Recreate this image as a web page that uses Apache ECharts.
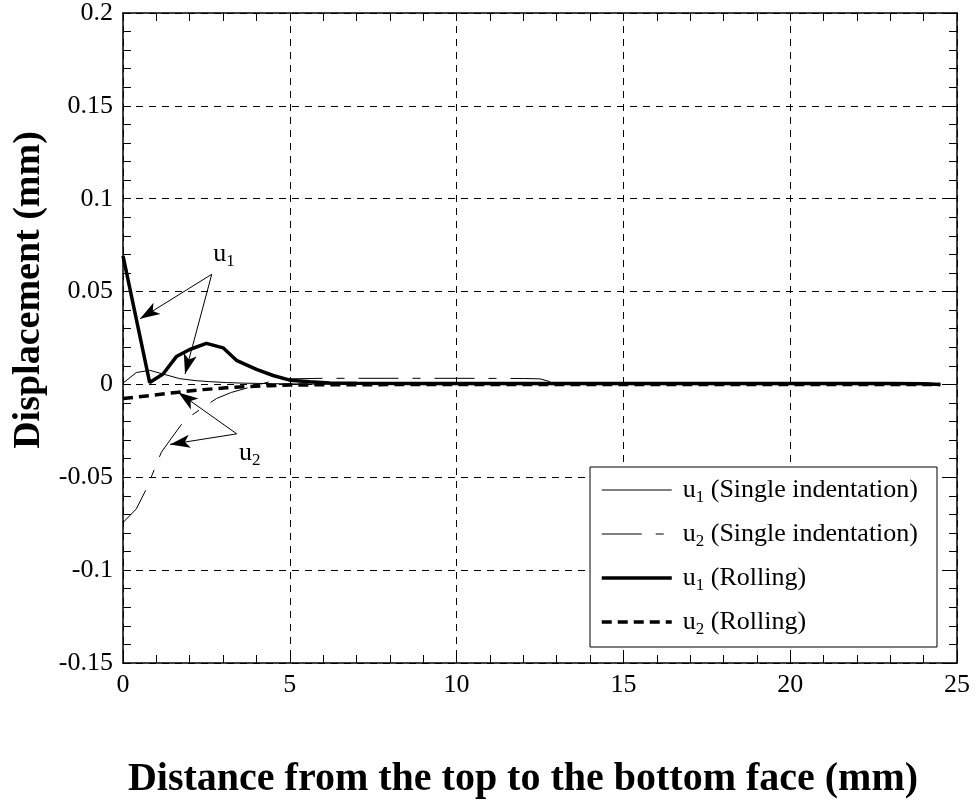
<!DOCTYPE html>
<html>
<head>
<meta charset="utf-8">
<script src="https://cdn.jsdelivr.net/npm/echarts@6/dist/echarts.min.js"></script>
<style>
  html, body { margin: 0; padding: 0; background: #fff; }
  #chart { width: 976px; height: 805px; }
</style>
</head>
<body>
<div id="chart"></div>
<script>
// u1, single indentation (thin solid)
var u1SingleX = [0, 0.4, 0.8, 1.2, 1.7, 2.2, 2.6, 3.1, 3.6, 4.5, 5.5, 7, 9, 11, 13, 15, 17, 19, 21, 23, 24.5];
var u1SingleY = [0.0007, 0.0064, 0.0076, 0.0056, 0.0031, 0.0020, 0.0015, 0.0010, 0.0007, 0.0004, 0.0002, 0.0001, 0.0001, 0.0001, 0.0001, 0.0001, 0.0001, 0.0001, 0.0001, 0.0001, 0];

// u2, single indentation (thin long dash)
var u2SingleX = [0, 0.4, 0.7, 1.15, 1.45, 1.75, 2.05, 2.8, 3.25, 4.0, 4.5, 5.0, 6, 8, 10, 12, 12.5, 13, 15, 17, 19, 21, 23, 24.5];
var u2SingleY = [-0.0744, -0.067, -0.0563, -0.0365, -0.029, -0.0216, -0.0167, -0.0076, -0.0043, -0.0005, 0.0020, 0.0030, 0.0033, 0.0033, 0.0033, 0.0032, 0.0030, 0.0005, 0.0002, 0.0002, 0.0002, 0.0002, 0.0001, 0];

// u1, rolling (thick solid)
var u1RollX = [0, 0.8, 1.2, 1.6, 2.0, 2.5, 3.0, 3.4, 4.0, 4.5, 5.0, 5.6, 6.2, 7, 9, 11, 13, 15, 17, 19, 21, 23, 24, 24.5];
var u1RollY = [0.0692, 0.0010, 0.0056, 0.0150, 0.0188, 0.0221, 0.0197, 0.0130, 0.0081, 0.0048, 0.0023, 0.0015, 0.0008, 0.0006, 0.0005, 0.0005, 0.0005, 0.0005, 0.0005, 0.0005, 0.0005, 0.0005, 0.0004, 0];

// u2, rolling (thick dash)
var u2RollX = [0, 0.8, 1.6, 2.4, 3.1, 3.8, 4.4, 5.0, 6, 8, 10, 12, 14, 16, 18, 20, 22, 24, 24.5];
var u2RollY = [-0.0076, -0.0060, -0.0043, -0.0028, -0.0018, -0.0011, -0.0007, -0.0003, -0.0002, -0.0001, -0.0001, -0.0001, -0.0001, -0.0001, -0.0001, -0.0001, -0.0001, -0.0001, 0];

var seriesNames = ['u1 (Single indentation)', 'u2 (Single indentation)', 'u1 (Rolling)', 'u2 (Rolling)'];

// annotation arrows: [fromX, fromY, toX, toY]
var arrowsU1 = [[2.66, 0.0593, 0.51, 0.0353], [2.66, 0.0593, 1.86, 0.0056]];
var arrowsU2 = [[3.41, -0.0266, 1.66, -0.0043], [3.41, -0.0266, 1.41, -0.0323]];
var noteLabels = [{sub: '1', x: 3.03, y: 0.070}, {sub: '2', x: 3.8, y: -0.037}];

var xTicks = {min: 0, max: 25, interval: 5};
var yTicks = {min: -0.15, max: 0.2, interval: 0.05};

function pairs(xs, ys) {
    return xs.map(function (x, i) { return [x, ys[i]] })
}

var fontFamily = '"Liberation Serif", "Times New Roman", serif';
var richSub = {
    t: {fontSize: 26, lineHeight: 32, fontFamily: fontFamily, color: '#000'},
    s: {fontSize: 17, lineHeight: 8, verticalAlign: 'bottom', fontFamily: fontFamily, color: '#000'}
};

var lineStyles = [
    {color: '#000', width: 1, type: 'solid'},
    {color: '#000', width: 1, type: [40, 14, 8, 14]},
    {color: '#000', width: 3.5, type: 'solid'},
    {color: '#000', width: 3.5, type: [10, 6]}
];

var markLines = arrowsU1.concat(arrowsU2).map(function (a) {
    return [{coord: [a[0], a[1]]}, {coord: [a[2], a[3]]}]
});
var markPoints = noteLabels.map(function (n) {
    return {
        coord: [n.x, n.y],
        label: {show: true, position: 'inside', formatter: '{t|u}{s|' + n.sub + '}', rich: richSub}
    }
});

var gridLine = {show: true, lineStyle: {color: '#000', width: 1, type: [7, 6]}};

function xAxisOf(pos, main) {
    return {
        type: 'value', position: pos,
        min: xTicks.min, max: xTicks.max, interval: xTicks.interval,
        axisLine: {show: true, onZero: false, lineStyle: {color: '#000', width: 1.5}},
        axisTick: {show: true, inside: true, length: 8, lineStyle: {color: '#000'}},
        minorTick: {show: true, splitNumber: 5, length: 8, lineStyle: {color: '#000'}},
        axisLabel: {show: main, margin: 9, fontSize: 26, fontFamily: fontFamily, color: '#000'},
        splitLine: main ? gridLine : {show: false},
        name: main ? 'Distance from the top to the bottom face (mm)' : '',
        nameLocation: 'middle', nameGap: 97,
        nameTextStyle: {fontSize: 40, fontWeight: 'bold', fontFamily: fontFamily, color: '#000', padding: [0, 34, 0, 0]}
    }
}

function yAxisOf(pos, main) {
    return {
        type: 'value', position: pos,
        min: yTicks.min, max: yTicks.max, interval: yTicks.interval,
        axisLine: {show: true, onZero: false, lineStyle: {color: '#000', width: 1.5}},
        axisTick: {show: true, inside: true, length: 8, lineStyle: {color: '#000'}},
        minorTick: {show: true, splitNumber: 5, length: 8, lineStyle: {color: '#000'}},
        axisLabel: {show: main, margin: 10, fontSize: 26, fontFamily: fontFamily, color: '#000'},
        splitLine: main ? gridLine : {show: false},
        name: main ? 'Displacement (mm)' : '',
        nameLocation: 'middle', nameGap: 71,
        nameTextStyle: {fontSize: 38, fontWeight: 'bold', fontFamily: fontFamily, color: '#000', padding: [0, 0, 0, 96]}
    }
}

var option = {
    animation: false,
    backgroundColor: '#fff',
    grid: {left: 123, right: 19, top: 13, bottom: 141},
    xAxis: [xAxisOf('bottom', true), xAxisOf('top', false)],
    yAxis: [yAxisOf('left', true), yAxisOf('right', false)],
    legend: {
        data: seriesNames.map(function (n, i) {
            return {
                name: n,
                itemStyle: {color: 'rgba(0,0,0,0)', borderWidth: 0, opacity: 0},
                lineStyle: lineStyles[i]
            }
        }),
        orient: 'vertical',
        left: 590, top: 467,
        padding: [10, 19, 9, 10],
        itemWidth: 70, itemHeight: 14, itemGap: 15,
        backgroundColor: '#fff',
        borderColor: '#000', borderWidth: 1, borderRadius: 0,
        formatter: function (name) {
            var m = name.match(/^u(\d) (.*)$/);
            return '{t|u}{s|' + m[1] + '}{t| ' + m[2] + '}'
        },
        textStyle: {rich: richSub, padding: [0, 0, 0, 6]}
    },
    series: [
        {
            name: seriesNames[0], type: 'line', showSymbol: false, symbol: 'none',
            data: pairs(u1SingleX, u1SingleY),
            lineStyle: lineStyles[0], itemStyle: {color: '#000'}
        },
        {
            name: seriesNames[1], type: 'line', showSymbol: false, symbol: 'none',
            data: pairs(u2SingleX, u2SingleY),
            lineStyle: lineStyles[1], itemStyle: {color: '#000'}
        },
        {
            name: seriesNames[2], type: 'line', showSymbol: false, symbol: 'none',
            data: pairs(u1RollX, u1RollY),
            lineStyle: lineStyles[2], itemStyle: {color: '#000'},
            markLine: {
                silent: true, symbol: ['none', 'arrow'], symbolSize: [10, 20],
                lineStyle: {color: '#000', width: 1, type: 'solid'},
                label: {show: false},
                data: markLines
            },
            markPoint: {
                silent: true, symbol: 'circle', symbolSize: 1,
                itemStyle: {color: 'rgba(0,0,0,0)'},
                data: markPoints
            }
        },
        {
            name: seriesNames[3], type: 'line', showSymbol: false, symbol: 'none',
            data: pairs(u2RollX, u2RollY),
            lineStyle: lineStyles[3], itemStyle: {color: '#000'}
        }
    ]
};

var mychart = echarts.init(document.getElementById('chart'));
mychart.setOption(option);
</script>
</body>
</html>
